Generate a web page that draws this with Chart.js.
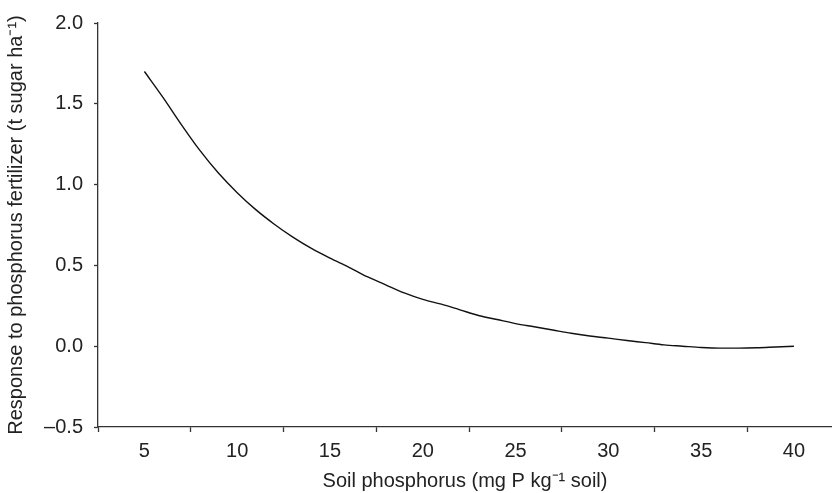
<!DOCTYPE html>
<html>
<head>
<meta charset="utf-8">
<script src="https://cdn.jsdelivr.net/npm/chart.js@4/dist/chart.umd.min.js"></script>
<style>
  html, body { margin: 0; padding: 0; background: #fff; overflow: hidden; }
  canvas { display: block; }
</style>
</head>
<body>
<canvas id="chart" width="832" height="493"></canvas>
<script>
// soil phosphorus (mg P / kg soil)
const soilP = [5, 6, 7, 8, 9, 10, 11, 12, 13, 14, 15, 16, 17, 18, 19, 20, 21, 22,
  23, 24, 25, 26, 27, 28, 29, 30, 31, 32, 33, 34, 35, 36, 37, 38, 39, 40];
// response (t sugar / ha)
const response = [1.70, 1.54, 1.37, 1.21, 1.07, 0.95, 0.845, 0.755, 0.675, 0.605, 0.545,
  0.49, 0.43, 0.38, 0.33, 0.29, 0.26, 0.225, 0.19, 0.165, 0.14, 0.12, 0.10, 0.08,
  0.063, 0.05, 0.035, 0.022, 0.008, 0.0, -0.008, -0.012, -0.012, -0.01, -0.005, 0.0];
const xTickValues = [2.5, 5, 7.5, 10, 12.5, 15, 17.5, 20, 22.5, 25, 27.5, 30, 32.5, 35, 37.5, 40];
const yTickValues = [-0.5, 0, 0.5, 1.0, 1.5, 2.0];

const font = { family: '"Liberation Sans", Arial, sans-serif', size: 20 };
const ink = '#222';

const points = soilP.map((x, i) => ({ x: x, y: response[i] }));

new Chart('chart', {
  type: 'line',
  data: {
    datasets: [{
      data: points,
      borderColor: '#111',
      borderWidth: 1.4,
      pointRadius: 0,
      fill: false,
      cubicInterpolationMode: 'monotone'
    }]
  },
  options: {
    responsive: false,
    animation: false,
    devicePixelRatio: 1,
    layout: { padding: { top: 18, right: 0, left: 0, bottom: 0 } },
    plugins: { legend: { display: false }, tooltip: { enabled: false } },
    scales: {
      x: {
        type: 'linear',
        min: 2.5,
        max: 42.05,
        afterBuildTicks: (scale) => { scale.ticks = xTickValues.map(v => ({ value: v })); },
        afterFit: (scale) => { scale.height = 66; },
        border: { display: true, color: '#333', width: 1.3 },
        grid: {
          drawOnChartArea: false,
          tickLength: 5,
          tickWidth: 1.3,
          color: (ctx) => (ctx.tick && ctx.tick.value % 5 === 0) ? 'rgba(0,0,0,0)' : '#333'
        },
        ticks: {
          autoSkip: false,
          maxRotation: 0,
          padding: 7,
          color: ink,
          font: font,
          callback: (v) => (v % 5 === 0 ? String(v) : '')
        },
        title: {
          display: true,
          text: 'Soil phosphorus (mg P kg\u207B\u00B9 soil)',
          color: ink,
          font: font,
          padding: { top: 1, bottom: 0 }
        }
      },
      y: {
        type: 'linear',
        min: -0.5,
        max: 2.0,
        afterBuildTicks: (scale) => { scale.ticks = yTickValues.map(v => ({ value: v })); },
        afterFit: (scale) => { scale.width = 98; },
        border: { display: true, color: '#333', width: 1.3 },
        grid: { drawOnChartArea: false, tickLength: 4, tickWidth: 1.3, color: '#333' },
        ticks: {
          padding: 11,
          color: ink,
          font: font,
          callback: (v) => (v < 0 ? '\u2013' + Math.abs(v).toFixed(1) : v.toFixed(1))
        },
        title: {
          display: true,
          text: 'Response to phosphorus fertilizer (t sugar ha\u207B\u00B9)',
          color: ink,
          font: font,
          padding: { top: 4, bottom: 0 }
        }
      }
    }
  }
});
</script>
</body>
</html>
